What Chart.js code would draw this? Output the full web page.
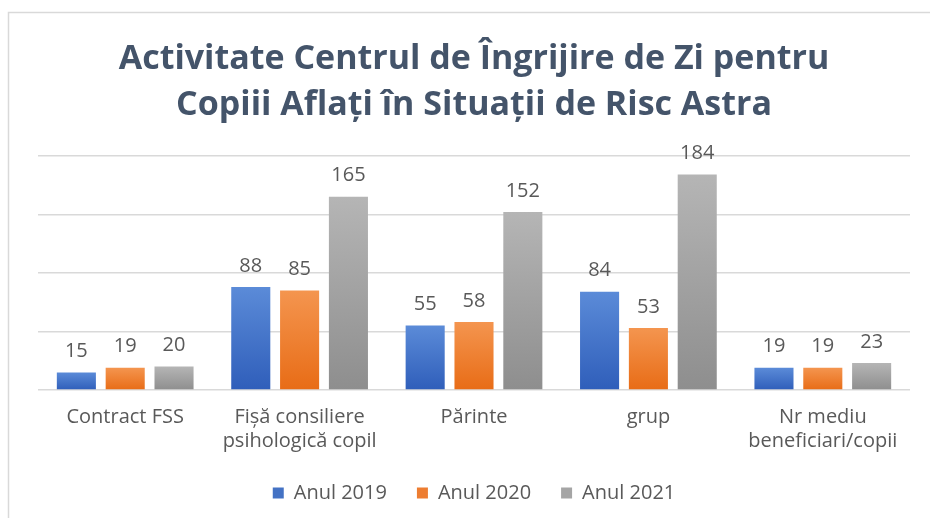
<!DOCTYPE html>
<html>
<head>
<meta charset="utf-8">
<script src="https://cdn.jsdelivr.net/npm/chart.js@4"></script>
<style>
html,body{margin:0;padding:0;background:#fff;}
#wrap{width:930px;height:518px;position:relative;}
</style>
</head>
<body>
<div id="wrap"><canvas id="c" width="930" height="518"></canvas></div>
<script>
const categories = [
  "Contract FSS",
  ["Fișă consiliere", "psihologică copil"],
  "Părinte",
  "grup",
  ["Nr mediu", "beneficiari/copii"]
];
const seriesNames = ["Anul 2019", "Anul 2020", "Anul 2021"];
const values2019 = [15, 88, 55, 84, 19];
const values2020 = [19, 85, 58, 53, 19];
const values2021 = [20, 165, 152, 184, 23];
const titleLines = ["Activitate Centrul de Îngrijire de Zi pentru", "Copiii Aflați în Situații de Risc Astra"];
const yTicks = [0, 50, 100, 150, 200];

const FONT = "'Open Sans'";
const gradStops = [
  ["#5B8BD8", "#2F5EBA"],
  ["#F4954F", "#E86C16"],
  ["#B5B5B5", "#8E8E8E"]
];
const solid = ["#4472C4", "#ED7D31", "#A5A5A5"];

function barGradient(idx) {
  return function(ctx) {
    const chart = ctx.chart;
    const y = chart.scales.y;
    if (!y || ctx.parsed === undefined || ctx.type !== 'data') return solid[idx];
    const top = y.getPixelForValue(ctx.parsed.y);
    const bottom = y.getPixelForValue(0);
    if (!isFinite(top) || !isFinite(bottom) || top === bottom) return solid[idx];
    const g = chart.ctx.createLinearGradient(0, top, 0, bottom);
    g.addColorStop(0, gradStops[idx][0]);
    g.addColorStop(1, gradStops[idx][1]);
    return g;
  };
}

const frame = {
  id: 'frame',
  beforeDraw(chart) {
    const c = chart.ctx;
    c.save();
    c.fillStyle = '#fff';
    c.fillRect(0, 0, chart.width, chart.height);
    c.strokeStyle = '#D9D9D9';
    c.lineWidth = 1.5;
    c.strokeRect(8.5, 12.5, chart.width + 10, chart.height + 10);
    c.restore();
  }
};

const valueLabels = {
  id: 'valueLabels',
  afterDatasetsDraw(chart) {
    const c = chart.ctx;
    c.save();
    c.font = "20px " + FONT;
    c.fillStyle = '#595959';
    c.textAlign = 'center';
    c.textBaseline = 'middle';
    chart.data.datasets.forEach((ds, i) => {
      chart.getDatasetMeta(i).data.forEach((bar, j) => {
        c.fillText(String(ds.data[j]), bar.x, bar.y - 21);
      });
    });
    c.restore();
  }
};

const allSeries = [values2019, values2020, values2021];

new Chart(document.getElementById('c'), {
  type: 'bar',
  data: {
    labels: categories,
    datasets: allSeries.map((vals, i) => ({
      label: seriesNames[i],
      data: vals,
      backgroundColor: barGradient(i),
      borderWidth: 0,
      categoryPercentage: 0.84,
      barPercentage: 0.8
    }))
  },
  options: {
    responsive: false,
    animation: false,
    devicePixelRatio: 1,
    layout: { padding: { left: 38, right: 20, top: 12, bottom: 5 } },
    plugins: {
      title: {
        display: true,
        text: titleLines,
        color: '#44546A',
        font: { family: FONT, size: 34, weight: 'bold', lineHeight: 1.35 },
        padding: { top: 24, bottom: 28 }
      },
      legend: {
        position: 'bottom',
        labels: {
          color: '#595959',
          font: { family: FONT, size: 20, lineHeight: 1.2 },
          boxWidth: 11,
          boxHeight: 11,
          padding: 30,
          generateLabels(chart) {
            return chart.data.datasets.map((ds, i) => ({
              text: ds.label,
              fillStyle: solid[i],
              strokeStyle: solid[i],
              lineWidth: 0,
              fontColor: '#595959',
              datasetIndex: i
            }));
          }
        }
      },
      tooltip: { enabled: false }
    },
    scales: {
      x: {
        grid: { display: false, drawTicks: false },
        border: { display: false },
        ticks: {
          color: '#595959',
          font: { family: FONT, size: 20, lineHeight: 1.2 },
          padding: 15,
          maxRotation: 0,
          autoSkip: false
        },
        afterFit(scale) { scale.height = 63; }
      },
      y: {
        min: yTicks[0],
        max: yTicks[yTicks.length - 1],
        afterBuildTicks(scale) { scale.ticks = yTicks.map(v => ({ value: v })); },
        grid: { color: '#D9D9D9', lineWidth: 1.5, drawTicks: false },
        border: { display: false },
        ticks: { display: false }
      }
    }
  },
  plugins: [frame, valueLabels]
});
</script>
</body>
</html>
